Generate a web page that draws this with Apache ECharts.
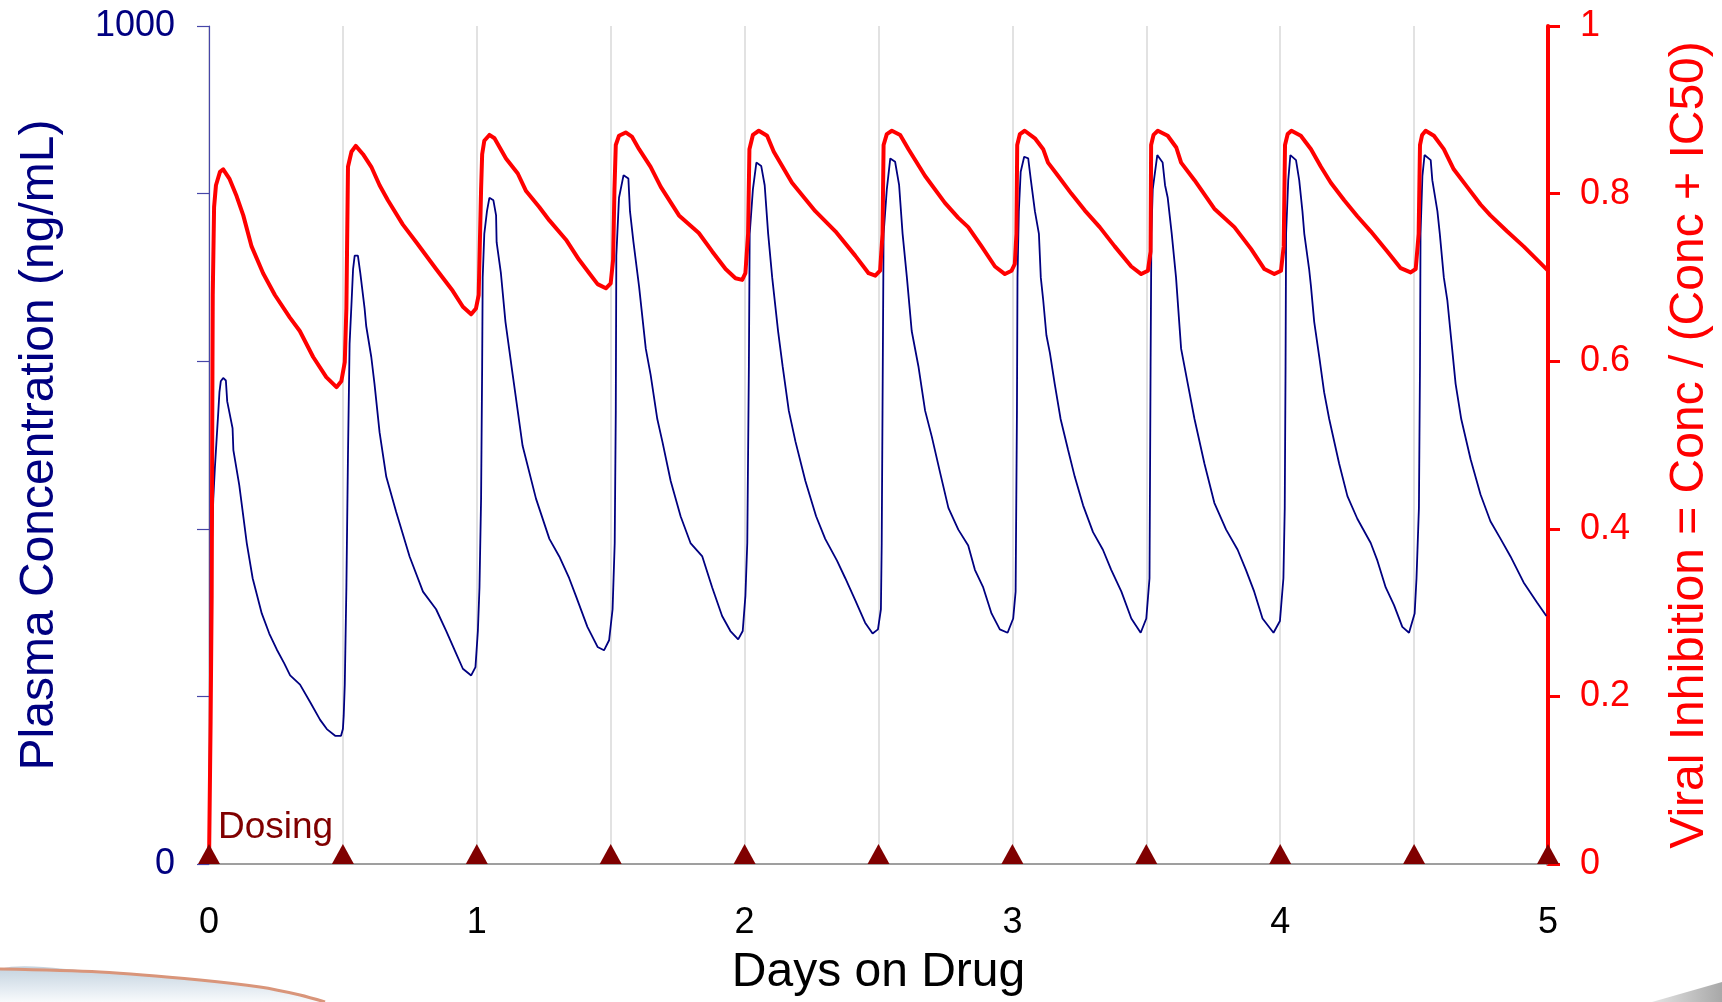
<!DOCTYPE html>
<html>
<head>
<meta charset="utf-8">
<script src="https://cdn.jsdelivr.net/npm/echarts@6/dist/echarts.min.js"></script>
<style>
  html, body { margin: 0; padding: 0; background: #ffffff; }
  #chart { width: 1722px; height: 1002px; }
</style>
</head>
<body>
<div id="chart"></div>
<script>
// days on drug, plasma concentration (ng/mL)
var plasmaConc = [
  [0, 0], [0.004, 172], [0.006, 278], [0.011, 383], [0.016, 436], [0.022, 473], [0.029, 510], [0.035, 541],
  [0.039, 563], [0.044, 576], [0.053, 580], [0.063, 577], [0.068, 552], [0.088, 520], [0.091, 494],
  [0.113, 452], [0.128, 415], [0.141, 383], [0.163, 341], [0.197, 299], [0.225, 275], [0.253, 256],
  [0.280, 240], [0.303, 225], [0.340, 214], [0.378, 193], [0.415, 172], [0.440, 161], [0.471, 153],
  [0.493, 153], [0.500, 161], [0.503, 177], [0.507, 214], [0.513, 330], [0.519, 489], [0.525, 621],
  [0.532, 668], [0.538, 710], [0.544, 726], [0.556, 726], [0.565, 705], [0.581, 663], [0.587, 642],
  [0.606, 605], [0.618, 573], [0.637, 515], [0.662, 462], [0.699, 420], [0.749, 367], [0.799, 325],
  [0.848, 304], [0.886, 278], [0.923, 251], [0.948, 233], [0.979, 225], [0.995, 235], [1.004, 278],
  [1.010, 330], [1.016, 436], [1.020, 594], [1.022, 700], [1.028, 752], [1.038, 779], [1.047, 795],
  [1.062, 792], [1.072, 774], [1.074, 742], [1.090, 705], [1.107, 647], [1.134, 584], [1.171, 499],
  [1.221, 436], [1.271, 388], [1.308, 367], [1.345, 341], [1.370, 320], [1.413, 283], [1.451, 259],
  [1.475, 255], [1.494, 267], [1.507, 304], [1.515, 383], [1.519, 541], [1.521, 726], [1.531, 795],
  [1.548, 822], [1.566, 818], [1.572, 779], [1.585, 742], [1.606, 689], [1.631, 615], [1.649, 584],
  [1.674, 531], [1.693, 504], [1.724, 457], [1.761, 415], [1.798, 383], [1.842, 367], [1.879, 330],
  [1.916, 296], [1.947, 278], [1.976, 268], [1.993, 278], [2.003, 320], [2.010, 383], [2.016, 594],
  [2.019, 752], [2.031, 805], [2.044, 837], [2.062, 833], [2.075, 810], [2.088, 752], [2.103, 700],
  [2.125, 636], [2.142, 594], [2.165, 541], [2.190, 504], [2.227, 457], [2.267, 415], [2.301, 388],
  [2.345, 362], [2.376, 341], [2.413, 315], [2.450, 288], [2.478, 275], [2.498, 280], [2.509, 304],
  [2.512, 383], [2.515, 541], [2.519, 752], [2.531, 805], [2.544, 842], [2.562, 838], [2.577, 810],
  [2.590, 752], [2.606, 700], [2.624, 636], [2.649, 594], [2.674, 541], [2.699, 510], [2.730, 467],
  [2.761, 425], [2.798, 399], [2.835, 380], [2.860, 351], [2.891, 330], [2.922, 299], [2.953, 280],
  [2.982, 276], [3.003, 293], [3.012, 325], [3.017, 541], [3.019, 700], [3.024, 779], [3.031, 826],
  [3.044, 844], [3.059, 842], [3.069, 816], [3.084, 779], [3.099, 752], [3.106, 700], [3.115, 673],
  [3.127, 631], [3.140, 610], [3.158, 573], [3.180, 531], [3.208, 494], [3.233, 462], [3.264, 428],
  [3.301, 396], [3.338, 375], [3.369, 351], [3.407, 325], [3.444, 293], [3.479, 276], [3.500, 293],
  [3.512, 341], [3.516, 594], [3.519, 752], [3.524, 805], [3.541, 846], [3.561, 837], [3.570, 810],
  [3.580, 795], [3.595, 752], [3.611, 700], [3.630, 615], [3.655, 573], [3.680, 531], [3.717, 478],
  [3.754, 431], [3.798, 399], [3.841, 375], [3.872, 351], [3.903, 325], [3.934, 293], [3.975, 276],
  [3.999, 290], [4.012, 341], [4.017, 425], [4.020, 594], [4.022, 752], [4.030, 816], [4.038, 846],
  [4.059, 840], [4.071, 816], [4.083, 779], [4.090, 752], [4.108, 710], [4.115, 689], [4.127, 647],
  [4.146, 605], [4.164, 563], [4.183, 531], [4.220, 478], [4.251, 439], [4.288, 412], [4.338, 383],
  [4.363, 362], [4.394, 330], [4.425, 309], [4.456, 283], [4.481, 276], [4.502, 299], [4.509, 341],
  [4.518, 425], [4.522, 594], [4.524, 752], [4.531, 821], [4.539, 846], [4.562, 840], [4.568, 816],
  [4.587, 779], [4.596, 752], [4.611, 700], [4.624, 673], [4.642, 615], [4.655, 573], [4.676, 531],
  [4.711, 483], [4.748, 441], [4.785, 409], [4.823, 388], [4.860, 367], [4.909, 336], [4.959, 312],
  [4.994, 296]
]

// days on drug, viral inhibition = Conc / (Conc + IC50)
var viralInhib = [
  [0, 0], [0.006, 0.17], [0.010, 0.32], [0.013, 0.60], [0.014, 0.679], [0.019, 0.784], [0.026, 0.81],
  [0.041, 0.826], [0.053, 0.829], [0.076, 0.818], [0.103, 0.797], [0.128, 0.774], [0.159, 0.737],
  [0.202, 0.705], [0.246, 0.679], [0.302, 0.652], [0.339, 0.636], [0.389, 0.605], [0.438, 0.581],
  [0.476, 0.569], [0.494, 0.576], [0.507, 0.599], [0.513, 0.663], [0.519, 0.832], [0.532, 0.85],
  [0.548, 0.857], [0.575, 0.847], [0.606, 0.832], [0.637, 0.81], [0.668, 0.792], [0.724, 0.763],
  [0.774, 0.742], [0.848, 0.710], [0.910, 0.684], [0.948, 0.665], [0.979, 0.656], [0.997, 0.663],
  [1.007, 0.679], [1.016, 0.805], [1.020, 0.847], [1.028, 0.863], [1.047, 0.870], [1.066, 0.866],
  [1.109, 0.842], [1.153, 0.824], [1.184, 0.803], [1.233, 0.784], [1.271, 0.768], [1.333, 0.745],
  [1.382, 0.721], [1.420, 0.705], [1.451, 0.692], [1.482, 0.687], [1.500, 0.693], [1.509, 0.721],
  [1.514, 0.805], [1.519, 0.858], [1.531, 0.869], [1.556, 0.873], [1.579, 0.868], [1.606, 0.853],
  [1.649, 0.832], [1.687, 0.808], [1.755, 0.774], [1.829, 0.753], [1.879, 0.731], [1.929, 0.710],
  [1.966, 0.699], [1.991, 0.697], [2.003, 0.705], [2.013, 0.752], [2.018, 0.853], [2.031, 0.870],
  [2.053, 0.875], [2.084, 0.869], [2.109, 0.850], [2.177, 0.813], [2.264, 0.779], [2.339, 0.755],
  [2.413, 0.726], [2.463, 0.705], [2.488, 0.702], [2.506, 0.708], [2.515, 0.752], [2.519, 0.858],
  [2.531, 0.871], [2.550, 0.875], [2.581, 0.870], [2.612, 0.853], [2.674, 0.821], [2.748, 0.789],
  [2.798, 0.771], [2.835, 0.760], [2.885, 0.737], [2.935, 0.713], [2.972, 0.704], [2.997, 0.708],
  [3.009, 0.716], [3.015, 0.752], [3.018, 0.858], [3.028, 0.871], [3.046, 0.875], [3.084, 0.866],
  [3.115, 0.853], [3.133, 0.837], [3.171, 0.821], [3.220, 0.800], [3.270, 0.780], [3.326, 0.760],
  [3.382, 0.737], [3.444, 0.713], [3.481, 0.704], [3.506, 0.708], [3.516, 0.731], [3.518, 0.858],
  [3.527, 0.870], [3.543, 0.875], [3.580, 0.869], [3.612, 0.855], [3.630, 0.837], [3.680, 0.816],
  [3.754, 0.782], [3.829, 0.760], [3.891, 0.734], [3.941, 0.710], [3.978, 0.704], [4.003, 0.708],
  [4.013, 0.737], [4.018, 0.858], [4.028, 0.871], [4.042, 0.875], [4.077, 0.869], [4.115, 0.853],
  [4.152, 0.832], [4.189, 0.813], [4.239, 0.792], [4.288, 0.773], [4.338, 0.755], [4.400, 0.731],
  [4.450, 0.711], [4.487, 0.706], [4.506, 0.710], [4.517, 0.752], [4.522, 0.858], [4.530, 0.870],
  [4.543, 0.875], [4.574, 0.869], [4.611, 0.853], [4.648, 0.829], [4.698, 0.808], [4.748, 0.787],
  [4.785, 0.774], [4.847, 0.755], [4.909, 0.737], [5.0, 0.708]
]

// dose times (days)
var doseDays = [0, 0.5, 1, 1.5, 2, 2.5, 3, 3.5, 4, 4.5, 5]

var FONT = 'Liberation Sans, Arial, sans-serif'
var NAVY = '#000080'
var RED = '#ff0000'
var DOSE = '#800000'

var chart = echarts.init(document.getElementById('chart'), null, { renderer: 'canvas' })

var option = {
  animation: false,
  backgroundColor: '#ffffff',
  grid: { left: 209, right: 171, top: 26, bottom: 133, containLabel: false },
  xAxis: {
    type: 'value',
    min: 0,
    max: 5,
    interval: 0.5,
    name: 'Days on Drug',
    nameLocation: 'middle',
    nameGap: 85,
    nameTextStyle: { fontFamily: FONT, fontSize: 48, color: '#000000' },
    axisLine: { show: true, onZero: false, lineStyle: { color: '#808080', width: 1.5 } },
    axisTick: { show: false },
    axisLabel: {
      fontFamily: FONT, fontSize: 36, color: '#000000', margin: 41,
      formatter: function (v) { return v % 1 === 0 ? String(v) : '' }
    },
    splitLine: { show: true, lineStyle: { color: '#d9d9d9', width: 1.5 } }
  },
  yAxis: [
    {
      type: 'value',
      position: 'left',
      min: 0,
      max: 1000,
      interval: 200,
      name: 'Plasma Concentration (ng/mL)',
      nameLocation: 'middle',
      nameRotate: 90,
      nameGap: 145,
      nameTextStyle: { fontFamily: FONT, fontSize: 48, color: NAVY },
      axisLine: { show: true, lineStyle: { color: '#4646a8', width: 1.2 } },
      axisTick: { show: true, inside: false, length: 12, lineStyle: { color: '#4646a8', width: 1.2 } },
      axisLabel: {
        fontFamily: FONT, fontSize: 36, color: NAVY, margin: 34,
        formatter: function (v) { return (v === 0 || v === 1000) ? String(v) : '' }
      },
      splitLine: { show: false }
    },
    {
      type: 'value',
      position: 'right',
      min: 0,
      max: 1,
      interval: 0.2,
      name: 'Viral Inhibition = Conc / (Conc + IC50)',
      nameLocation: 'middle',
      nameRotate: 90,
      nameGap: 118,
      nameTextStyle: { fontFamily: FONT, fontSize: 48, color: RED },
      axisLine: { show: true, lineStyle: { color: RED, width: 4 } },
      axisTick: { show: true, inside: false, length: 12, lineStyle: { color: RED, width: 3 } },
      axisLabel: { fontFamily: FONT, fontSize: 36, color: RED, margin: 32 },
      splitLine: { show: false }
    }
  ],
  graphic: [
    {
      type: 'text',
      left: 218,
      top: 809,
      style: { text: 'Dosing', fill: DOSE, font: '37px ' + FONT }
    },
    {
      // slide background swoosh, bottom left (fill under the line)
      type: 'polygon',
      z: -10,
      shape: { points: [[0, 969], [100, 972], [200, 980], [260, 987], [300, 995], [325, 1002], [0, 1002]], smooth: 0.3 },
      style: {
        fill: new echarts.graphic.LinearGradient(0, 0, 0, 1, [
          { offset: 0, color: '#c3d2de' },
          { offset: 0.6, color: '#e6edf3' },
          { offset: 1, color: '#ffffff' }
        ])
      }
    },
    {
      // swoosh edge line
      type: 'polyline',
      z: -9,
      shape: { points: [[0, 969], [100, 972], [200, 980], [260, 987], [300, 995], [325, 1002]], smooth: 0.3 },
      style: { stroke: '#d9957a', lineWidth: 3, fill: null }
    },
    {
      // slide background swoosh, bottom right
      type: 'polygon',
      z: -10,
      shape: { points: [[1652, 1002], [1722, 982], [1722, 1002]] },
      style: {
        fill: new echarts.graphic.LinearGradient(0, 0, 1, 0, [
          { offset: 0, color: '#e4e4e4' },
          { offset: 1, color: '#a8a8a8' }
        ])
      }
    }
  ],
  series: [
    {
      name: 'Plasma Concentration',
      type: 'line',
      yAxisIndex: 0,
      data: plasmaConc,
      showSymbol: false,
      smooth: false,
      lineStyle: { color: NAVY, width: 1.8 },
      z: 3
    },
    {
      name: 'Viral Inhibition',
      type: 'line',
      yAxisIndex: 1,
      data: viralInhib,
      showSymbol: false,
      smooth: false,
      lineStyle: { color: RED, width: 4, join: 'round' },
      z: 4
    },
    {
      name: 'Dosing',
      type: 'scatter',
      yAxisIndex: 0,
      data: doseDays.map(function (d) { return [d, 0] }),
      symbol: 'triangle',
      symbolSize: [22, 20],
      symbolOffset: [0, -10],
      itemStyle: { color: DOSE, opacity: 1 },
      clip: false,
      z: 6
    }
  ]
}

chart.setOption(option)
</script>
</body>
</html>
